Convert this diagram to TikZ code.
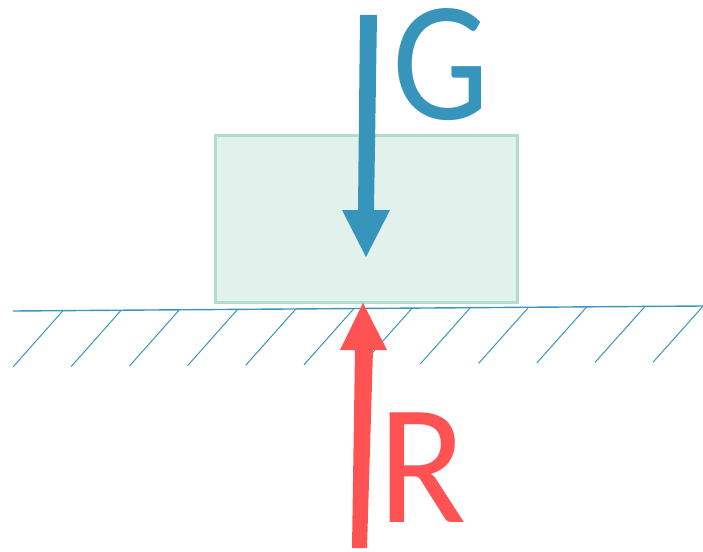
\documentclass[tikz,border=0pt]{standalone}
\usepackage{fontspec}
\setmainfont{Carlito}
\definecolor{gblue}{HTML}{3795BC}
\definecolor{rred}{HTML}{FF5353}
\definecolor{boxfill}{HTML}{E1F1EC}
\definecolor{boxline}{HTML}{B2DCCB}
\definecolor{groundc}{HTML}{3B96BD}
\begin{document}
\begin{tikzpicture}[x=1pt,y=-1pt,
  body/.style={fill=boxfill,draw=boxline,line width=2.5pt},
  ground/.style={draw=groundc,line width=1.4pt},
  hatch/.style={draw=groundc,line width=1pt},
  letter/.style={font=\fontsize{171}{171}\selectfont,inner sep=0pt,anchor=base west}]
\useasboundingbox (0,0) rectangle (703,551);
% block
\node[body,minimum width=302pt,minimum height=167pt,inner sep=0pt,anchor=north west] (blk) at (214,134) {};
% ground
\coordinate (gl) at (13,311);
\coordinate (gr) at (703,306);
\draw[ground] (gl) -- (gr);
\foreach \i in {0,...,11}{
  \pgfmathsetmacro{\xt}{63+58.2*\i}
  \pgfmathsetmacro{\yt}{311-(\xt-13)*0.00725}
  \pgfmathsetmacro{\yb}{367-5*\i/11}
  \draw[hatch] (\xt,\yt) -- (\xt-50,\yb);
}
% G arrow
\fill[gblue] (360,15) -- (377,15) -- (374,210) -- (390,210) -- (366,257) -- (342,210) -- (358,210) -- cycle;
% R arrow
\fill[rred] (363,303) -- (387,350) -- (373,350) -- (367,548) -- (352,548) -- (355,350) -- (340,350) -- cycle;
% labels
\node[letter,text=gblue,xscale=0.9] (G) at (392,119) {G};
\node[letter,text=rred,xscale=0.95] (R) at (378,522) {R};
\end{tikzpicture}
\end{document}
